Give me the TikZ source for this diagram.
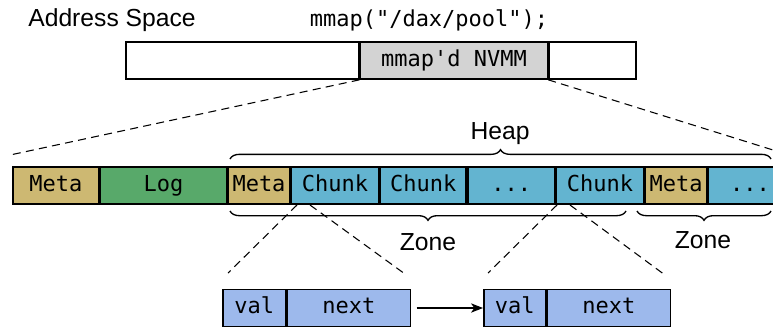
\documentclass[tikz,border=0pt]{standalone}
\usepackage{fontspec}
\setmainfont{Liberation Sans}
\setmonofont{DejaVu Sans Mono}
\usetikzlibrary{positioning,decorations.pathreplacing,arrows.meta}
\definecolor{metaclr}{HTML}{CDB872}
\definecolor{logclr}{HTML}{58A96A}
\definecolor{chunkclr}{HTML}{63B4D0}
\definecolor{cellclr}{HTML}{9DB9EC}
\definecolor{nvmmclr}{HTML}{D3D3D3}
\newcommand{\mdots}{.\kern0pt.\kern0pt.}
\tikzset{
  seg/.style={draw, line width=1.2pt, inner sep=0pt, minimum height=27.75pt,
    text height=12pt, text depth=3.5pt,
    font=\fontsize{16.5}{20}\selectfont\ttfamily},
  lbl/.style={inner sep=0pt, font=\fontsize{18.5}{22}\selectfont},
  zoomline/.style={line width=0.8pt, dash pattern=on 6pt off 4pt},
  bracestyle/.style={line width=1pt, decorate, decoration={brace, amplitude=7pt}}
}
\begin{document}
\begin{tikzpicture}[x=0.75pt, y=-0.75pt]
  \useasboundingbox (0,0) rectangle (773,329);

  % Address space bar
  \node[lbl] (as) at (112,20) {Address Space};
  \node[lbl, font=\fontsize{16.5}{20}\selectfont\ttfamily] (call) at (429,20) {mmap("/dax/pool");};
  \node[seg, minimum width=174.75pt, anchor=west] (asl) at (125,60.5) {};
  \node[seg, minimum width=140.25pt, fill=nvmmclr, right=0pt of asl] (nvmm) {mmap'd NVMM};
  \node[seg, minimum width=65.25pt, right=0pt of nvmm] (asr) {};

  % Pool layout
  \node[seg, minimum width=64.5pt, fill=metaclr, anchor=west] (meta0) at (12,185.5) {Meta};
  \node[seg, minimum width=94.5pt, fill=logclr, right=0pt of meta0] (log) {Log};
  \node[seg, minimum width=46.5pt, fill=metaclr, right=0pt of log] (meta1) {Meta};
  \node[seg, minimum width=65.25pt, fill=chunkclr, right=0pt of meta1] (chunk1) {Chunk};
  \node[seg, minimum width=64.5pt, fill=chunkclr, right=0pt of chunk1] (chunk2) {Chunk};
  \node[seg, minimum width=65.25pt, fill=chunkclr, right=0pt of chunk2] (dots1) {\mdots};
  \node[seg, minimum width=65.25pt, fill=chunkclr, right=0pt of dots1] (chunk3) {Chunk};
  \node[seg, minimum width=46.5pt, fill=metaclr, right=0pt of chunk3] (meta2) {Meta};
  \node[seg, minimum width=62pt, fill=chunkclr, right=0pt of meta2] (dots2) {\mdots};

  % Zoom from NVMM to pool
  \coordinate (poolL) at (10,155);
  \coordinate (poolR) at (773,150);
  \draw[zoomline] (nvmm.south west) -- (poolL);
  \draw[zoomline] (nvmm.south east) -- (poolR);

  % Braces
  \draw[bracestyle] (230,159) -- (771,159);
  \node[lbl] (heap) at (500,134) {Heap};
  \draw[bracestyle] (626,211) -- (230,211);
  \node[lbl] (zone1) at (428,242) {Zone};
  \draw[bracestyle] (771,211) -- (637,211);
  \node[lbl] (zone2) at (703,240) {Zone};

  % Linked list cells
  \node[seg, minimum width=47.25pt, fill=cellclr, anchor=west] (val1) at (222,308) {val};
  \node[seg, minimum width=92.25pt, fill=cellclr, right=0pt of val1] (next1) {next};
  \node[seg, minimum width=46.5pt, fill=cellclr, anchor=west] (val2) at (483,308) {val};
  \node[seg, minimum width=92.25pt, fill=cellclr, right=0pt of val2] (next2) {next};
  \draw[line width=0.8pt, -{Stealth[length=9pt, width=7pt, inset=2.5pt]}, shorten <=4pt] (next1) -- (val2);

  % Zoom from chunks to cells
  \coordinate (c1a) at (297,205);
  \coordinate (c1b) at (310,205);
  \coordinate (c3a) at (557,205);
  \coordinate (c3b) at (570,205);
  \coordinate (e1a) at (228,273);
  \coordinate (e1b) at (405,274);
  \coordinate (e3a) at (488,273);
  \coordinate (e3b) at (665,275);
  \draw[zoomline] (c1a) -- (e1a);
  \draw[zoomline] (c1b) -- (e1b);
  \draw[zoomline] (c3a) -- (e3a);
  \draw[zoomline] (c3b) -- (e3b);
\end{tikzpicture}
\end{document}
